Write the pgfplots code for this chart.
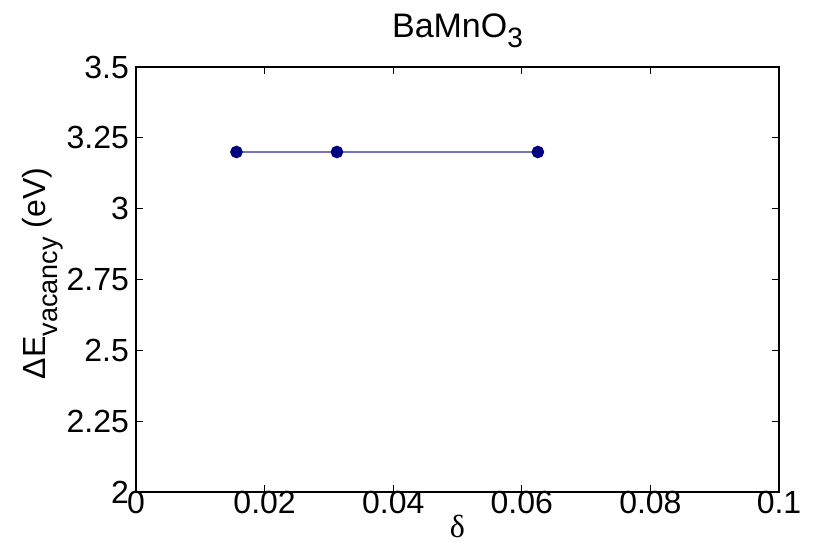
\documentclass[border=0pt]{standalone}
\usepackage{fontspec}
\setmainfont{Liberation Sans}
\newfontfamily\seriffont{Liberation Serif}
\usepackage{pgfplots}
\pgfplotsset{compat=1.18}
\definecolor{linecol}{RGB}{115,115,190}
\definecolor{markcol}{RGB}{0,0,128}
\begin{document}
\begin{tikzpicture}
\begin{axis}[
    name=ax, scale only axis, width=321.5pt, height=212.5pt,
    xmin=0, xmax=0.1, ymin=2, ymax=3.5,
    xtick={0,0.02,0.04,0.06,0.08,0.1},
    ytick={2,2.25,2.5,2.75,3,3.25,3.5},
    scaled ticks=false,
    tick align=inside, major tick length=3.5pt,
    tick style={black, line width=0.5pt},
    axis line style={line width=0.6pt},
    font=\fontsize{16}{19}\selectfont,
    /pgf/number format/assume math mode=true,
    xticklabel style={/pgf/number format/fixed, yshift=4pt},
    yticklabel style={/pgf/number format/fixed},
    title={BaMnO\raisebox{-5pt}{\fontsize{14}{16}\selectfont 3}},
    title style={font=\fontsize{17}{20}\selectfont},
    xlabel={{\seriffont δ}},
    xlabel style={yshift=6pt},
    ylabel={ΔE\raisebox{-6pt}{\fontsize{13.5}{15}\selectfont vacancy} (eV)},
    ylabel shift=-5pt,
    ylabel style={xshift=3pt},
]
\addplot[color=linecol, line width=0.8pt, mark=*, mark size=2.75pt,
    mark options={draw=markcol, fill=markcol}]
    coordinates {(0.015625,3.2) (0.03125,3.2) (0.0625,3.2)};
\end{axis}
\pgfresetboundingbox
\path[use as bounding box] ([shift={(-68pt,-25.5pt)}]ax.south west) rectangle ([shift={(17pt,33.5pt)}]ax.north east);
\end{tikzpicture}
\end{document}
